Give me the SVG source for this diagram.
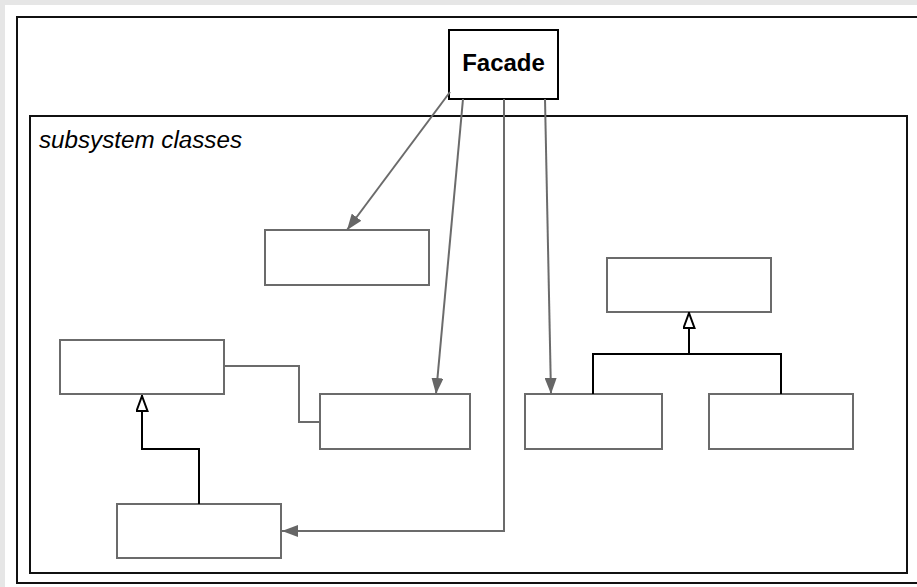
<svg xmlns="http://www.w3.org/2000/svg" width="917" height="587" viewBox="0 0 917 587">
<style>
.frame{fill:none;stroke:#111;stroke-width:2}
.cls{fill:#fff;stroke:#6b6b6b;stroke-width:2}
.assoc{fill:none;stroke:#6b6b6b;stroke-width:2}
.gen{fill:none;stroke:#000;stroke-width:2}
.lbl{font-family:"Liberation Sans",Arial,sans-serif}
</style>
<defs>
<marker id="arr" viewBox="0 0 16 12" refX="16" refY="6" markerWidth="16" markerHeight="12" markerUnits="userSpaceOnUse" orient="auto">
<path d="M0,0 L16,6 L0,12 Z" fill="#666"/>
</marker>
<marker id="tri" viewBox="0 0 17 13" refX="17" refY="6.5" markerWidth="17" markerHeight="13" markerUnits="userSpaceOnUse" orient="auto">
<path d="M1,1 L16,6.5 L1,12 Z" fill="#fff" stroke="#000" stroke-width="2"/>
</marker>
</defs>
<rect x="0" y="0" width="917" height="587" fill="#e6e6e6"/>
<rect x="5" y="5" width="912" height="582" fill="#fff"/>
<g id="outer-frame">
<rect class="frame" x="17" y="17" width="920" height="566"/>
</g>
<g id="subsystem-frame">
<rect class="frame" x="30" y="116" width="877" height="457"/>
<text class="lbl" x="39" y="148" font-size="24.2" font-style="italic" fill="#000">subsystem classes</text>
</g>
<g id="facade">
<rect x="449" y="30" width="109" height="69" fill="#fff" stroke="#000" stroke-width="2"/>
<text class="lbl" x="503.5" y="71" font-size="24" font-weight="bold" text-anchor="middle" fill="#000">Facade</text>
</g>
<g id="class1"><rect class="cls" x="265" y="230" width="164" height="55"/></g>
<g id="class2"><rect class="cls" x="60" y="340" width="164" height="54"/></g>
<g id="class3"><rect class="cls" x="320" y="394" width="150" height="55"/></g>
<g id="class4"><rect class="cls" x="607" y="258" width="164" height="54"/></g>
<g id="class5"><rect class="cls" x="117" y="504" width="164" height="54"/></g>
<g id="class6"><rect class="cls" x="525" y="394" width="137" height="55"/></g>
<g id="class7"><rect class="cls" x="709" y="394" width="144" height="55"/></g>
<g id="connectors">
<line class="assoc" x1="450" y1="92" x2="347" y2="230" marker-end="url(#arr)"/>
<line class="assoc" x1="463" y1="99" x2="436" y2="394" marker-end="url(#arr)"/>
<polyline class="assoc" points="504,99 504,531 282,531" marker-end="url(#arr)"/>
<line class="assoc" x1="545" y1="99" x2="551" y2="394" marker-end="url(#arr)"/>
<polyline class="assoc" points="224,366 299,366 299,422 320,422"/>
<polyline class="gen" points="199,504 199,449 142,449 142,395" marker-end="url(#tri)"/>
<polyline class="gen" points="593,394 593,354 781,354 781,394"/>
<line class="gen" x1="689" y1="354" x2="689" y2="312" marker-end="url(#tri)"/>
</g>
</svg>
